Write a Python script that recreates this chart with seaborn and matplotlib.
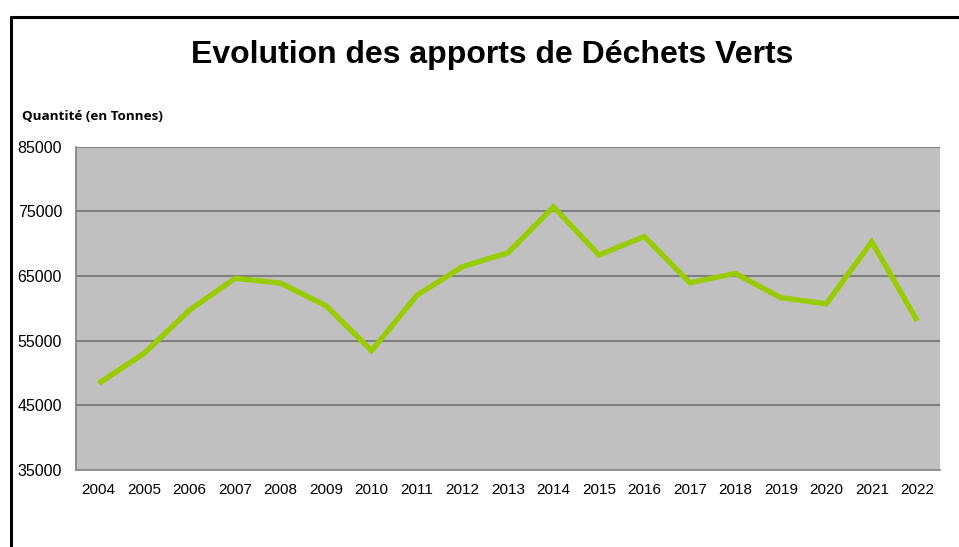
import numpy as np
import matplotlib
matplotlib.use("Agg")
import matplotlib.pyplot as plt
import seaborn as sns
from matplotlib.lines import Line2D
from matplotlib.ticker import FixedLocator

# Données
annees = ["2004", "2005", "2006", "2007", "2008", "2009", "2010", "2011", "2012", "2013",
          "2014", "2015", "2016", "2017", "2018", "2019", "2020", "2021", "2022"]
tonnes = [48400, 53050, 59750, 64650, 63900, 60400, 53450, 62050, 66450, 68600,
          75700, 68250, 71100, 63950, 65400, 61650, 60700, 70300, 58050]
y_ticks = [35000, 45000, 55000, 65000, 75000, 85000]

sns.set_theme(style="white")
plt.rcParams['font.family'] = ['Liberation Sans', 'DejaVu Sans']

fig = plt.figure(figsize=(9.59, 5.47), dpi=100)
ax = fig.add_axes([76 / 959, 1 - 470 / 547, (940 - 76) / 959, (470 - 146.7) / 547])
ax.set_facecolor("#c0c0c0")

x_pos = np.arange(len(annees))
sns.lineplot(x=x_pos, y=tonnes, ax=ax, color="#99cc00", linewidth=3.8,
             solid_joinstyle="miter", solid_capstyle="butt")

ax.set_xlim(-0.5, len(annees) - 0.5)
ax.set_ylim(35000, 85000)
ax.set_yticks(y_ticks)
ax.set_yticklabels([str(v) for v in y_ticks], fontsize=11.5)
ax.set_xticks(x_pos)
ax.set_xticklabels(annees, fontsize=11)
ax.xaxis.set_minor_locator(FixedLocator(np.arange(-0.5, len(annees), 1.0)))
ax.tick_params(axis="x", which="major", length=0, pad=9, labelcolor="black")
ax.tick_params(axis="x", which="minor", length=5, width=1, color="#808080", direction="out")
ax.tick_params(axis="y", which="major", length=6, width=1, color="#808080",
               direction="out", pad=4, labelcolor="black")

# quadrillage horizontal
ax.grid(False)
for v in y_ticks[1:]:
    ax.axhline(v, color="#808080", linewidth=1.5, zorder=1)

for side in ["top", "right"]:
    ax.spines[side].set_visible(False)
for side in ["left", "bottom"]:
    ax.spines[side].set_color("#808080")
    ax.spines[side].set_linewidth(1.2)

fig.text(492 / 959, 1 - 55 / 547, "Evolution des apports de Déchets Verts",
         ha="center", va="center", fontsize=23, fontweight="bold", color="black")
fig.text(22 / 959, 1 - 117 / 547, "Quantité (en Tonnes)", ha="left", va="center",
         fontsize=9.7, fontweight="bold", color="black", family=["Open Sans", "DejaVu Sans"])

# cadre du graphique
fig.add_artist(Line2D([11 / 959, 1.0], [1 - 16.5 / 547, 1 - 16.5 / 547],
                      transform=fig.transFigure, color="black", linewidth=2.2))
fig.add_artist(Line2D([11 / 959, 11 / 959], [0.0, 1 - 16.5 / 547],
                      transform=fig.transFigure, color="black", linewidth=2.2))

fig.savefig("out.png", dpi=100)
